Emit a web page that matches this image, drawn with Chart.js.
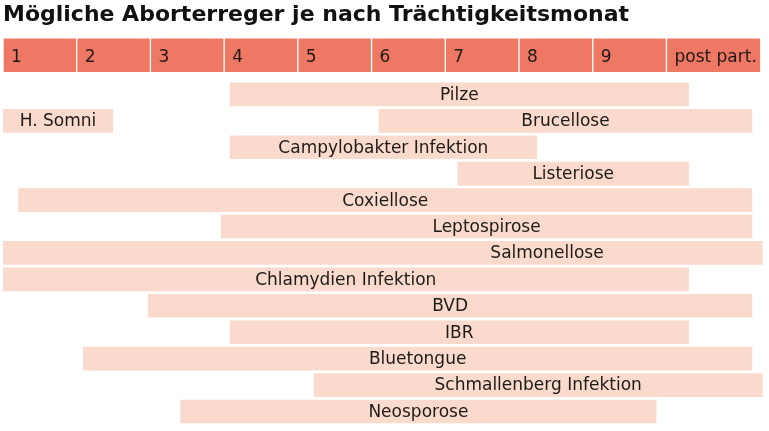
<!DOCTYPE html>
<html>
<head>
<meta charset="utf-8">
<script src="https://cdn.jsdelivr.net/npm/chart.js@4/dist/chart.umd.min.js"></script>
<style>
  html, body { margin: 0; padding: 0; background: #fff; }
  #wrap { width: 769px; height: 431px; }
</style>
</head>
<body>
<div id="wrap"><canvas id="abortChart"></canvas></div>
<script>
// header row: months of pregnancy (x in month units, 0 = start of month 1)
const months = ['1', '2', '3', '4', '5', '6', '7', '8', '9', 'post part.'];
const monthFrom = [0, 1, 2, 3, 4, 5, 6, 7, 8, 9];
const monthTo = [1, 2, 3, 4, 5, 6, 7, 8, 9, 10.28];

// pathogens and the period they can cause abortion
const pathogens = ['Pilze', 'H. Somni', 'Brucellose', 'Campylobakter Infektion', 'Listeriose',
    'Coxiellose', 'Leptospirose', 'Salmonellose', 'Chlamydien Infektion', 'BVD', 'IBR',
    'Bluetongue', 'Schmallenberg Infektion', 'Neosporose'];
const periodFrom = [3.08, 0, 5.1, 3.08, 6.17, 0.21, 2.96, 0, 0, 1.97, 3.08, 1.09, 4.22, 2.41];
const periodTo = [9.3, 1.49, 10.16, 7.24, 9.3, 10.16, 10.16, 10.3, 9.3, 10.16, 9.3, 10.16, 10.3, 8.86];
const rowOf = [0, 1, 1, 2, 3, 4, 5, 6, 7, 8, 9, 10, 11, 12];
// where the name sits (month units), null = middle of the bar
const labelAt = [null, null, null, null, null, null, null, 7.38, null, null, null, null, null, null];

const HEADER_ROW = -1.48;
const FONT = "'DejaVu Sans', sans-serif";

// draws the text on every bar
const barLabels = {
    id: 'barLabels',
    afterDatasetsDraw(chart) {
        const ctx = chart.ctx;
        const xScale = chart.scales.x;
        ctx.save();
        ctx.fillStyle = '#1e1a18';
        ctx.textBaseline = 'middle';
        ctx.font = '17px ' + FONT;
        chart.data.datasets.forEach((ds, i) => {
            chart.getDatasetMeta(i).data.forEach((bar, j) => {
                const left = Math.min(bar.x, bar.base);
                const right = Math.max(bar.x, bar.base);
                if (ds.isHeader) {
                    ctx.textAlign = 'left';
                    ctx.fillText(ds.names[j], left + 8, bar.y + 2);
                } else {
                    const at = ds.labelAt[j];
                    const cx = at === null ? (left + right) / 2 : xScale.getPixelForValue(at);
                    ctx.textAlign = 'center';
                    ctx.fillText(ds.names[j], cx, bar.y + 1);
                }
            });
        });
        ctx.restore();
    }
};

new Chart(document.getElementById('abortChart'), {
    type: 'bar',
    data: {
        datasets: [{
            isHeader: true,
            names: months,
            data: months.map((m, i) => ({ x: [monthFrom[i], monthTo[i]], y: HEADER_ROW })),
            backgroundColor: '#ef7864',
            borderColor: '#ffffff',
            borderWidth: 1,
            borderSkipped: false,
            barThickness: 35
        }, {
            names: pathogens,
            labelAt: labelAt,
            data: pathogens.map((p, i) => ({ x: [periodFrom[i], periodTo[i]], y: rowOf[i] })),
            backgroundColor: '#f9dacd',
            borderWidth: 0,
            barThickness: 23
        }]
    },
    options: {
        indexAxis: 'y',
        responsive: true,
        maintainAspectRatio: false,
        animation: false,
        grouped: false,
        layout: { padding: { left: 3, right: 6, top: 0, bottom: 0 } },
        scales: {
            x: { type: 'linear', min: 0, max: 10.31, display: false },
            y: { type: 'linear', min: -2.277, max: 12.738, reverse: true, offset: false, display: false }
        },
        plugins: {
            legend: { display: false },
            tooltip: { enabled: false },
            title: {
                display: true,
                text: 'Mögliche Aborterreger je nach Trächtigkeitsmonat',
                align: 'start',
                color: '#111111',
                font: { family: FONT, size: 22, weight: 'bold', lineHeight: 1.1 },
                padding: { top: 3, bottom: 7 }
            }
        }
    },
    plugins: [barLabels]
});
</script>
</body>
</html>
